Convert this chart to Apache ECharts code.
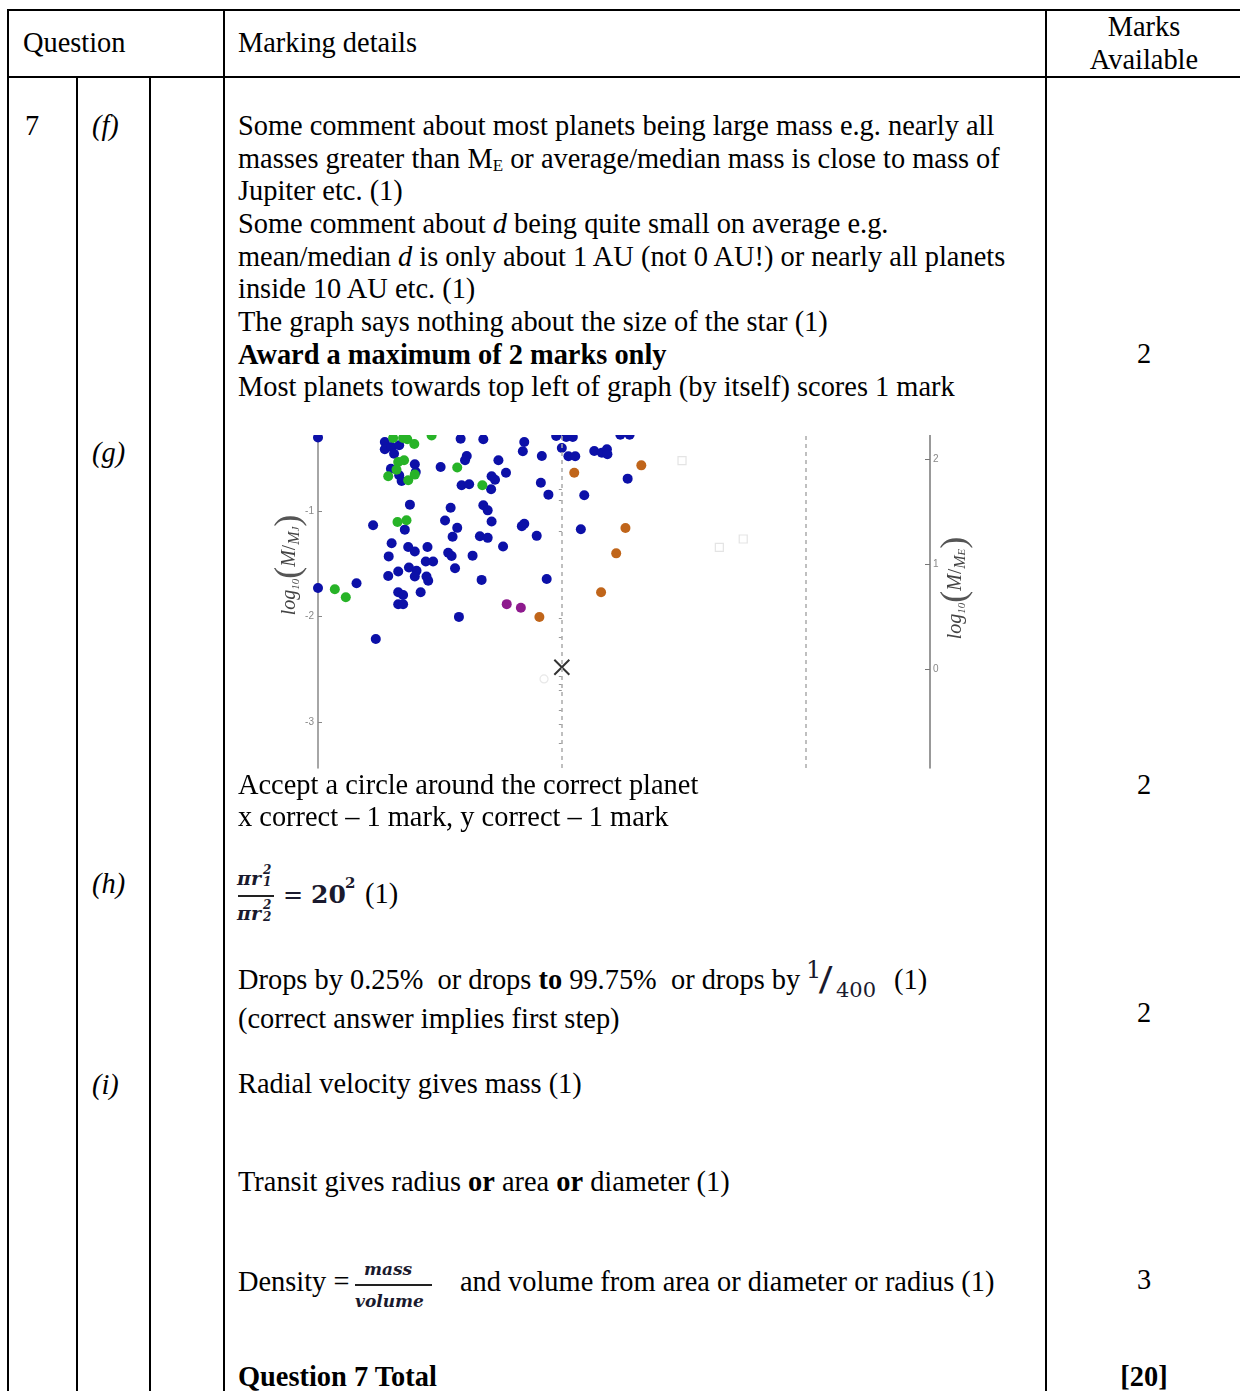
<!DOCTYPE html>
<html><head><meta charset="utf-8">
<script src="https://cdn.jsdelivr.net/npm/echarts@6/dist/echarts.min.js"></script>
<style>
html,body{margin:0;padding:0;background:#fff;}
#page{position:relative;width:1240px;height:1391px;overflow:hidden;background:#fff;font-family:"Liberation Serif","Times New Roman",serif;color:#000;}
.t{position:absolute;font-size:28.4px;line-height:32px;white-space:pre;}
.hl{position:absolute;background:#000;}
.c{text-align:center;}
.m{font-family:"DejaVu Serif","Liberation Serif",serif;font-style:italic;font-weight:bold;color:#1a1a2e;position:absolute;white-space:pre;}
#chart{position:absolute;left:240px;top:435px;width:760px;height:335px;}
</style></head>
<body><div id="page">
<!-- table rules -->
<div class="hl" style="left:8px;top:9px;width:1232px;height:2px"></div>
<div class="hl" style="left:8px;top:76px;width:1232px;height:2px"></div>
<div class="hl" style="left:7px;top:9px;width:2px;height:1382px"></div>
<div class="hl" style="left:223px;top:9px;width:2px;height:1382px"></div>
<div class="hl" style="left:1045px;top:9px;width:2px;height:1382px"></div>
<div class="hl" style="left:76px;top:77px;width:1.5px;height:1314px"></div>
<div class="hl" style="left:149px;top:77px;width:1.5px;height:1314px"></div>

<!-- header -->
<div class="t" style="left:23px;top:27px">Question</div>
<div class="t" style="left:238px;top:27px">Marking details</div>
<div class="t c" style="left:1046px;width:196px;top:11px">Marks</div>
<div class="t c" style="left:1046px;width:196px;top:44px">Available</div>

<!-- left column -->
<div class="t" style="left:25px;top:110px">7</div>
<div class="t" style="left:92px;top:110px;font-style:italic">(f)</div>
<div class="t" style="left:92px;top:437px;font-style:italic">(g)</div>
<div class="t" style="left:92px;top:868px;font-style:italic">(h)</div>
<div class="t" style="left:92px;top:1069px;font-style:italic">(i)</div>

<!-- marks column -->
<div class="t c" style="left:1046px;width:196px;top:338px">2</div>
<div class="t c" style="left:1046px;width:196px;top:769px">2</div>
<div class="t c" style="left:1046px;width:196px;top:997px">2</div>
<div class="t c" style="left:1046px;width:196px;top:1264px">3</div>
<div class="t c" style="left:1046px;width:196px;top:1361px;font-weight:bold">[20]</div>

<!-- (f) text -->
<div class="t" style="left:238px;top:110px">Some comment about most planets being large mass e.g. nearly all</div>
<div class="t" style="left:238px;top:143px">masses greater than M<sub style="font-size:17px;vertical-align:-3px">E</sub> or average/median mass is close to mass of</div>
<div class="t" style="left:238px;top:175px">Jupiter etc. (1)</div>
<div class="t" style="left:238px;top:208px">Some comment about <i>d</i> being quite small on average e.g.</div>
<div class="t" style="left:238px;top:241px">mean/median <i>d</i> is only about 1 AU (not 0 AU!) or nearly all planets</div>
<div class="t" style="left:238px;top:273px">inside 10 AU etc. (1)</div>
<div class="t" style="left:238px;top:306px">The graph says nothing about the size of the star (1)</div>
<div class="t" style="left:238px;top:339px;font-weight:bold">Award a maximum of 2 marks only</div>
<div class="t" style="left:238px;top:371px">Most planets towards top left of graph (by itself) scores 1 mark</div>

<!-- (g) -->
<div id="chart"></div>
<div class="t" style="left:238px;top:769px">Accept a circle around the correct planet</div>
<div class="t" style="left:238px;top:801px">x correct – 1 mark, y correct – 1 mark</div>

<!-- (h) formula -->
<div class="m" style="left:237px;top:869px;font-size:19px;line-height:19px">πr</div>
<div class="m" style="left:263px;top:865px;font-size:12px;line-height:11px">2</div>
<div class="m" style="left:263px;top:877px;font-size:12px;line-height:11px">1</div>
<div class="hl" style="left:238px;top:895px;width:36px;height:1.5px;background:#222"></div>
<div class="m" style="left:237px;top:904px;font-size:19px;line-height:19px">πr</div>
<div class="m" style="left:263px;top:900px;font-size:12px;line-height:11px">2</div>
<div class="m" style="left:263px;top:912px;font-size:12px;line-height:11px">2</div>
<div class="m" style="left:283px;top:882px;font-size:24px;line-height:26px;font-style:normal;font-weight:normal">=</div>
<div class="m" style="left:311px;top:882px;font-size:25px;line-height:26px;font-style:normal">20</div>
<div class="m" style="left:345px;top:876px;font-size:15px;line-height:15px;font-style:normal">2</div>
<div class="t" style="left:365px;top:878px">(1)</div>

<div class="t" style="left:238px;top:964px">Drops by 0.25%  or drops <b>to</b> 99.75%  or drops by</div>
<div class="m" style="left:806px;top:958px;font-size:24px;line-height:24px;font-style:normal;font-weight:normal">1</div>
<div class="m" style="left:820px;top:962px;font-size:34px;line-height:34px;font-style:normal;font-weight:normal;transform:scaleX(1.2)">/</div>
<div class="m" style="left:836px;top:980px;font-size:21px;line-height:21px;font-style:normal;font-weight:normal">400</div>
<div class="t" style="left:894px;top:964px">(1)</div>
<div class="t" style="left:238px;top:1003px">(correct answer implies first step)</div>

<!-- (i) -->
<div class="t" style="left:238px;top:1068px">Radial velocity gives mass (1)</div>
<div class="t" style="left:238px;top:1166px">Transit gives radius <b>or</b> area <b>or</b> diameter (1)</div>
<div class="t" style="left:238px;top:1266px">Density =</div>
<div class="m" style="left:364px;top:1260px;font-size:17px;line-height:18px">mass</div>
<div class="hl" style="left:355px;top:1284px;width:77px;height:1.5px;background:#222"></div>
<div class="m" style="left:355px;top:1292px;font-size:17px;line-height:18px">volume</div>
<div class="t" style="left:460px;top:1266px">and volume from area or diameter or radius (1)</div>
<div class="t" style="left:238px;top:1361px;font-weight:bold">Question 7 Total</div>
</div>

<script>
// log10(d / AU) , log10(M / M_J)
const bluePts = [
[-1.000,-0.300],[-0.726,-0.342],[-0.726,-0.412],[-0.698,-0.390],[-0.667,-0.374],[-0.688,-0.454],
[-0.701,-0.596],[-0.603,-0.554],[-0.599,-0.627],[-0.667,-0.658],[-0.657,-0.713],[-0.623,-0.937],
[-0.774,-1.133],[-0.644,-1.174],[-0.698,-1.304],[-0.415,-0.311],[-0.322,-0.317],[-0.154,-0.342],
[-0.160,-0.431],[-0.082,-0.475],[-0.390,-0.475],[-0.397,-0.516],[-0.260,-0.516],[-0.497,-0.580],
[-0.229,-0.634],[-0.288,-0.668],[-0.274,-0.700],[-0.411,-0.753],[-0.380,-0.744],[-0.290,-0.791],
[-0.086,-0.729],[-0.055,-0.842],[-0.456,-0.966],[-0.322,-0.943],[-0.304,-0.991],[-0.479,-1.087],
[-0.288,-1.096],[-0.429,-1.157],[-0.154,-1.119],[-0.164,-1.141],[-0.448,-1.242],[-0.336,-1.236],
[-0.304,-1.252],[-0.103,-1.233],[-0.023,-0.286],[0.018,-0.295],[0.045,-0.295],[0.240,-0.273],
[0.278,-0.273],[0.000,-0.399],[0.027,-0.478],[0.055,-0.478],[0.133,-0.428],[0.164,-0.444],
[0.185,-0.412],[0.187,-0.459],[0.270,-0.690],[0.092,-0.848],[0.078,-1.171],[-0.710,-1.428],
[-0.630,-1.339],[-0.603,-1.381],[-0.551,-1.339],[-0.558,-1.476],[-0.528,-1.476],[-0.671,-1.571],
[-0.627,-1.533],[-0.596,-1.564],[-0.603,-1.619],[-0.555,-1.619],[-0.548,-1.659],[-0.712,-1.614],
[-0.842,-1.683],[-1.000,-1.728],[-0.671,-1.768],[-0.651,-1.794],[-0.579,-1.768],[-0.671,-1.882],
[-0.651,-1.882],[-0.763,-2.212],[-0.466,-1.393],[-0.452,-1.424],[-0.438,-1.541],[-0.366,-1.421],
[-0.329,-1.651],[-0.241,-1.334],[-0.062,-1.642],[-0.422,-2.002]
];
const greenPts = [
[-0.692,-0.305],[-0.651,-0.305],[-0.634,-0.317],[-0.605,-0.361],[-0.534,-0.281],[-0.671,-0.532],
[-0.647,-0.516],[-0.678,-0.605],[-0.603,-0.652],[-0.712,-0.667],[-0.630,-0.705],[-0.674,-1.101],
[-0.637,-1.085],[-0.429,-0.585],[-0.326,-0.753],[-0.931,-1.739],[-0.886,-1.816]
];
const orangePts = [[0.051,-0.634],[0.326,-0.564],[0.261,-1.159],[0.223,-1.399],[0.161,-1.769],[-0.092,-2.003]];
const purplePts = [[-0.226,-1.881],[-0.168,-1.915]];
const faintSquarePts = [[0.493,-0.520],[0.646,-1.342],[0.744,-1.263]];
const faintCirclePts = [[-0.073,-2.591]];
const earthPt = [[0.0,-2.48]];
const dashedLinesX = [0, 1];
const leftTicks = [-3, -2, -1];
const rightTicks = [0, 1, 2];
const rightMinorTicks = [2.08, 1.71, 1.61, 1.31, 0.49, 0.31, -0.06, -0.14, -0.2, -0.39, -0.52, -0.7];
const MJ_IN_ME = 2.502; // log10(317.8)

const yMin = -3.436, yMax = -0.276;
const chart = echarts.init(document.getElementById('chart'));
const dot = (data, color) => ({
  type: 'scatter', data, symbol: 'circle', symbolSize: 10, clip: false,
  itemStyle: { color, opacity: 1 }, silent: true
});
const axisLabelStyle = { color: '#888', fontSize: 10, fontFamily: 'Liberation Sans' };
const nameRich = {
  it: { fontFamily: 'Liberation Serif', fontStyle: 'italic', fontSize: 20, fill: '#444' },
  low: { fontFamily: 'Liberation Serif', fontStyle: 'italic', fontSize: 16, fill: '#444', padding: [9, 0, 0, 0] },
  sub: { fontFamily: 'Liberation Serif', fontStyle: 'italic', fontSize: 11, fill: '#444', padding: [12, 0, 0, 0] },
  sl: { fontFamily: 'Liberation Serif', fontSize: 19, fill: '#444' },
  par: { fontFamily: 'Liberation Serif', fontSize: 36, fill: '#555' }
};
chart.setOption({
  animation: false,
  grid: { left: 78, right: 70, top: 0, bottom: 2, containLabel: false },
  xAxis: { type: 'value', min: -1, max: 1.51, show: false },
  yAxis: [
    { type: 'value', min: yMin, max: yMax, position: 'left',
      axisLine: { show: true, onZero: false, lineStyle: { color: '#888', width: 1.5 } },
      axisTick: { show: true, inside: true, length: 4, customValues: leftTicks, lineStyle: { color: '#888' } },
      axisLabel: { show: true, customValues: leftTicks, margin: 4, ...axisLabelStyle },
      splitLine: { show: false } },
    { type: 'value', min: yMin + MJ_IN_ME, max: yMax + MJ_IN_ME, position: 'right',
      axisLine: { show: true, onZero: false, lineStyle: { color: '#777', width: 1.5 } },
      axisTick: { show: true, inside: true, length: 5, customValues: rightTicks, lineStyle: { color: '#777' } },
      axisLabel: { show: true, customValues: rightTicks, margin: 3, ...axisLabelStyle },
      splitLine: { show: false } },
    { type: 'value', min: yMin + MJ_IN_ME, max: yMax + MJ_IN_ME, position: 'right',
      axisLine: { show: false },
      axisTick: { show: true, inside: true, length: 3, customValues: rightMinorTicks, lineStyle: { color: '#999' } },
      axisLabel: { show: false }, splitLine: { show: false } }
  ],
  series: [
    { type: 'scatter', data: [], silent: true,
      markLine: { silent: true, symbol: ['none', 'none'], label: { show: false },
        lineStyle: { type: [4, 4], color: '#aaa', width: 1.5 },
        data: dashedLinesX.map(v => ({ xAxis: v })) } },
    { type: 'scatter', data: faintSquarePts, symbol: 'rect', symbolSize: 8, silent: true,
      itemStyle: { color: '#fff', borderColor: '#ddd', borderWidth: 1.2 } },
    { type: 'scatter', data: faintCirclePts, symbol: 'circle', symbolSize: 8, silent: true,
      itemStyle: { color: '#fff', borderColor: '#e2e2e2', borderWidth: 1.2 } },
    dot(bluePts, '#0c10a8'),
    dot(greenPts, '#27b327'),
    dot(orangePts, '#c0651a'),
    dot(purplePts, '#8e1a8e'),
    { type: 'scatter', data: earthPt, symbol: 'path://M0,0L10,10M10,0L0,10', symbolSize: 15, silent: true,
      itemStyle: { color: 'rgba(0,0,0,0)', borderColor: '#000', borderWidth: 2 } }
  ],
  graphic: [
    { type: 'text', x: 50, y: 130, rotation: Math.PI / 2, silent: true,
      style: { text: '{it|log}{sub|10}{par|(}{it|M}{sl|/}{low|M}{sub|J}{par|)}',
        align: 'center', verticalAlign: 'middle', fill: '#444', rich: nameRich } },
    { type: 'text', x: 716, y: 153, rotation: Math.PI / 2, silent: true,
      style: { text: '{it|log}{sub|10}{par|(}{it|M}{sl|/}{low|M}{sub|E}{par|)}',
        align: 'center', verticalAlign: 'middle', fill: '#444', rich: nameRich } }
  ]
});
</script>
</body></html>
